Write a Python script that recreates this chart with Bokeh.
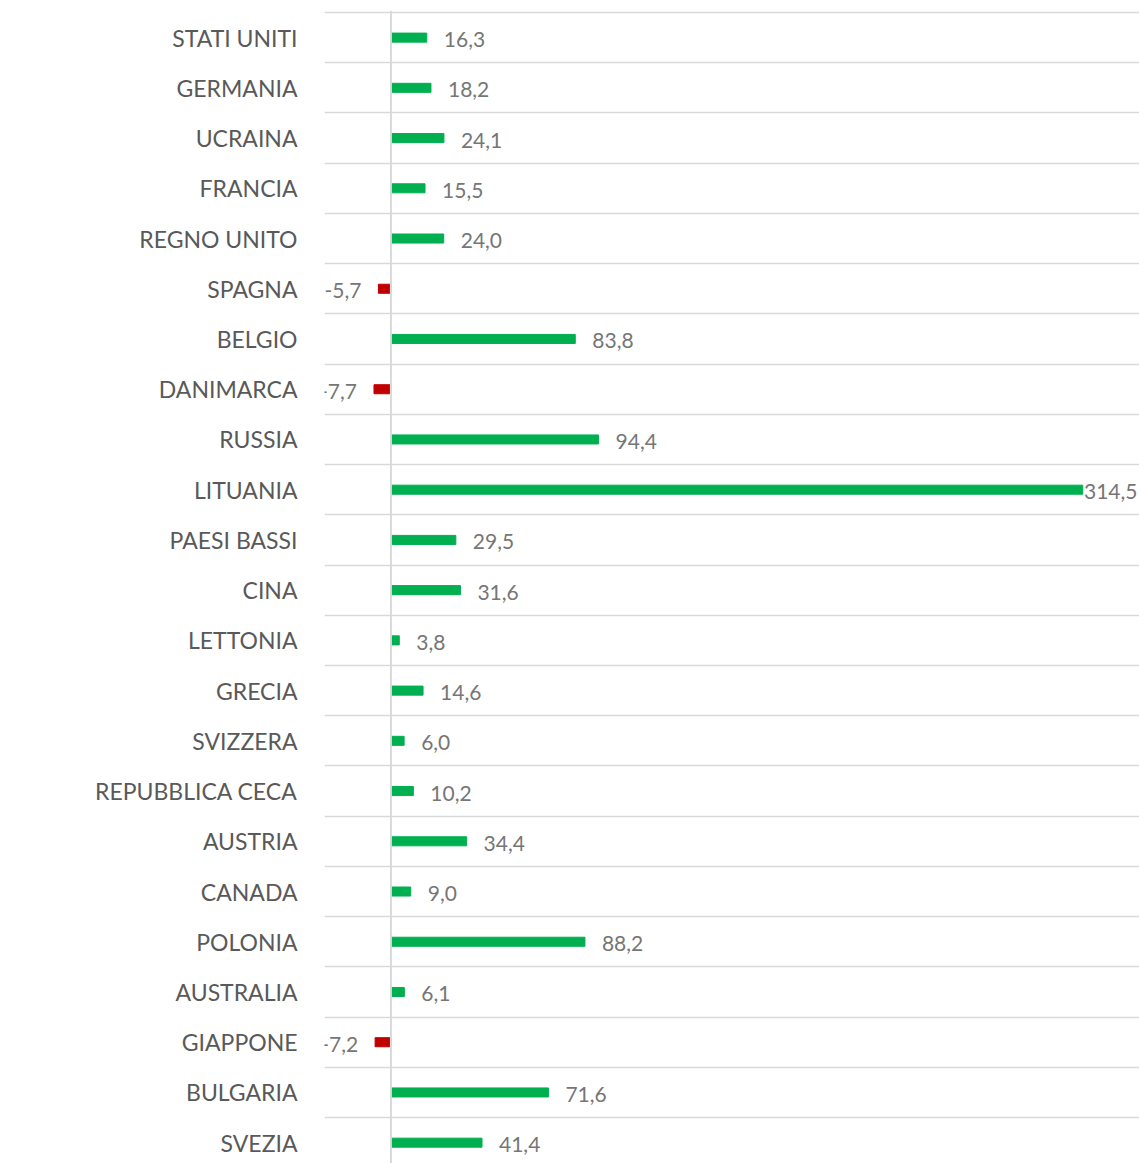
from bokeh.plotting import figure
from bokeh.models import ColumnDataSource, Range1d, FixedTicker, Span, LabelSet
from bokeh.core.properties import value
from bokeh.embed import file_html
from bokeh.resources import INLINE

countries = ["STATI UNITI", "GERMANIA", "UCRAINA", "FRANCIA", "REGNO UNITO", "SPAGNA",
             "BELGIO", "DANIMARCA", "RUSSIA", "LITUANIA", "PAESI BASSI", "CINA",
             "LETTONIA", "GRECIA", "SVIZZERA", "REPUBBLICA CECA", "AUSTRIA", "CANADA",
             "POLONIA", "AUSTRALIA", "GIAPPONE", "BULGARIA", "SVEZIA"]
values = [16.3, 18.2, 24.1, 15.5, 24.0, -5.7, 83.8, -7.7, 94.4, 314.5, 29.5, 31.6,
          3.8, 14.6, 6.0, 10.2, 34.4, 9.0, 88.2, 6.1, -7.2, 71.6, 41.4]

n = len(countries)
ypos = [n - 1 - i for i in range(n)]
colors = ["#00B050" if v >= 0 else "#C00000" for v in values]
labels = [f"{v:.1f}".replace(".", ",") for v in values]

X_START, X_END = -30.2, 340.3
PX_PER_UNIT = 2.2
LABEL_GAP = 17
EST_LABEL_W = 62

lx, lalign, loff = [], [], []
for v in values:
    if v < 0:
        lx.append(v); lalign.append("right"); loff.append(-LABEL_GAP)
    elif v + (LABEL_GAP + EST_LABEL_W) / PX_PER_UNIT > X_END:
        lx.append(X_END); lalign.append("right"); loff.append(-2)
    else:
        lx.append(v); lalign.append("left"); loff.append(LABEL_GAP)

src = ColumnDataSource(dict(y=ypos, v=values, c=colors, lab=labels,
                            lx=lx, la=lalign, lo=loff))

row_px = 50.23
top = n - 0.5 + 2.0 / row_px
frame_h = 1153
bottom = top - frame_h / row_px

p = figure(width=1139, height=1163, output_backend="svg", toolbar_location=None,
           x_range=Range1d(X_START, X_END), y_range=Range1d(bottom, top),
           min_border_left=324, min_border_top=10, min_border_bottom=0, min_border_right=0)
p.outline_line_color = None
p.background_fill_color = "white"
p.border_fill_color = "white"

p.hbar(y="y", left=0, right="v", height=0.18, color="c", source=src)

p.add_layout(LabelSet(x="lx", y="y", text="lab", text_align="la", x_offset="lo", y_offset=-2,
                      text_baseline="middle", text_font=value("Lato"), text_font_size="21px",
                      text_color="#767676", source=src))

p.add_layout(Span(location=0, dimension="height", line_color="#d9d9d9", line_width=2))

p.xaxis.visible = False
p.xgrid.visible = False

yax = p.yaxis[0]
yax.ticker = FixedTicker(ticks=ypos)
yax.major_label_overrides = {y: c for y, c in zip(ypos, countries)}
yax.axis_line_color = None
yax.major_tick_line_color = None
yax.minor_tick_line_color = None
yax.major_tick_out = 0
yax.major_tick_in = 0
yax.major_label_standoff = 27
yax.major_label_text_font = "Lato"
yax.major_label_text_font_size = "23px"
yax.major_label_text_color = "#595959"

p.ygrid.ticker = FixedTicker(ticks=[y + 0.5 for y in range(-1, n)])
p.ygrid.grid_line_color = "#d9d9d9"
p.ygrid.grid_line_width = 1.5

open("out.html", "w").write(file_html(p, INLINE))
